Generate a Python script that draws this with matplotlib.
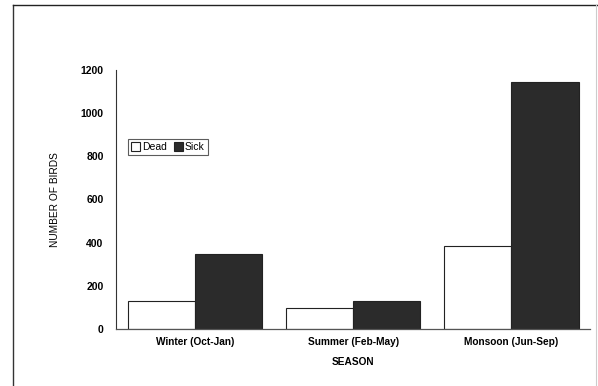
import numpy as np
import matplotlib.pyplot as plt
from matplotlib.lines import Line2D

plt.rcParams['font.family'] = ['Liberation Sans', 'DejaVu Sans']

# données
seasons = ['Winter (Oct-Jan)', 'Summer (Feb-May)', 'Monsoon (Jun-Sep)']
dead = [131, 96, 386]
sick = [347, 131, 1146]
yticks = [0, 200, 400, 600, 800, 1000, 1200]

fig = plt.figure(figsize=(5.98, 3.86), dpi=100)
ax = fig.add_axes([0.194, 0.1477, 0.793, 0.671])

x = np.arange(len(seasons))
w = 0.426
ax.bar(x - w / 2, dead, w, color='white', edgecolor='#222222', linewidth=0.8, label='Dead')
ax.bar(x + w / 2, sick, w, color='#2b2b2b', edgecolor='#222222', linewidth=0.8, label='Sick')

ax.set_xlim(-0.5, 2.5)
ax.set_ylim(0, 1200)
ax.set_yticks(yticks)
ax.set_yticklabels([str(v) for v in yticks], fontsize=7.5, fontweight='bold')
ax.set_xticks(x)
ax.set_xticklabels(seasons, fontsize=7.3, fontweight='bold')
ax.tick_params(axis='x', length=0, pad=6)
ax.tick_params(axis='y', length=0, pad=9)

for s in ['top', 'right']:
    ax.spines[s].set_visible(False)
ax.spines['left'].set_color('#333333')
ax.spines['left'].set_linewidth(0.8)
ax.spines['bottom'].set_color('#555555')
ax.spines['bottom'].set_linewidth(0.9)

ax.set_ylabel('NUMBER OF BIRDS', fontsize=7.3, labelpad=15)
ax.set_xlabel('SEASON', fontsize=7.3, fontweight='bold', labelpad=7)

leg = ax.legend(loc='upper left', bbox_to_anchor=(0.025, 0.734), ncol=2, fontsize=7.5,
                frameon=True, fancybox=False, handlelength=0.9, handleheight=0.9,
                handletextpad=0.2, columnspacing=0.6, borderpad=0.3, borderaxespad=0)
leg.get_frame().set_edgecolor('#333333')
leg.get_frame().set_linewidth(0.8)

# cadre autour de la figure (scan)
fig.add_artist(Line2D([13 / 598, 13 / 598], [0, 1 - 5 / 386], transform=fig.transFigure,
                      color='#333333', linewidth=1.0))
fig.add_artist(Line2D([13 / 598, 1], [1 - 5 / 386, 1 - 5 / 386], transform=fig.transFigure,
                      color='#222222', linewidth=1.0))
fig.add_artist(Line2D([596 / 598, 596 / 598], [0, 1 - 5 / 386], transform=fig.transFigure,
                      color='#cccccc', linewidth=0.8))

fig.savefig('out.png', dpi=100)
